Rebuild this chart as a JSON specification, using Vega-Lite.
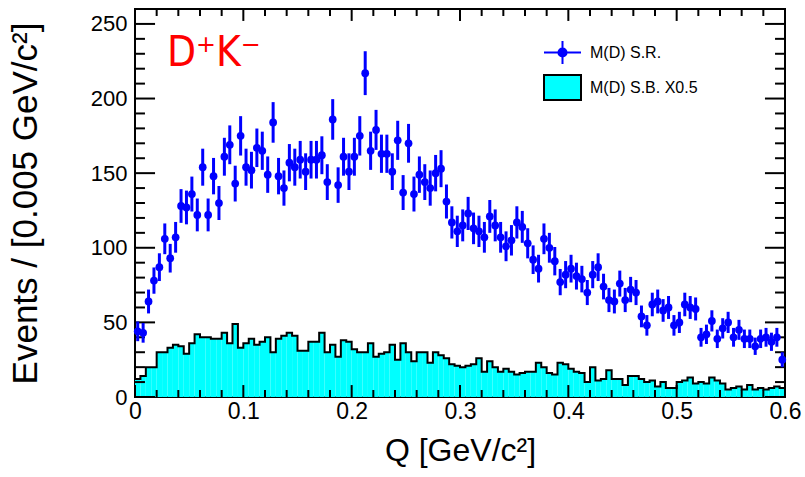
{
  "$schema": "https://vega.github.io/schema/vega-lite/v6.json",
  "width": 650,
  "height": 388,
  "autosize": {"type": "none"},
  "padding": {"left": 135, "top": 9, "right": 20, "bottom": 80},
  "background": "white",
  "config": {
    "view": {"stroke": "black", "strokeWidth": 2},
    "font": "Liberation Sans",
    "axis": {"domain": false, "ticks": false, "grid": false, "labelColor": "black", "titleColor": "black", "labelFlush": false, "labelOverlap": false}
  },
  "resolve": {
    "scale": {"x": "shared", "y": "shared"},
    "axis": {"x": "independent", "y": "independent"}
  },
  "datasets": {
    "xmaj": [{"t":0},{"t":0.1},{"t":0.2},{"t":0.3},{"t":0.4},{"t":0.5},{"t":0.6}],
    "xmin": [{"t":0.02},{"t":0.04},{"t":0.06},{"t":0.08},{"t":0.12},{"t":0.14},{"t":0.16},{"t":0.18},{"t":0.22},{"t":0.24},{"t":0.26},{"t":0.28},{"t":0.32},{"t":0.34},{"t":0.36},{"t":0.38},{"t":0.42},{"t":0.44},{"t":0.46},{"t":0.48},{"t":0.52},{"t":0.54},{"t":0.56},{"t":0.58}],
    "ymaj": [{"t":0},{"t":50},{"t":100},{"t":150},{"t":200},{"t":250}],
    "ymin": [{"t":10},{"t":20},{"t":30},{"t":40},{"t":60},{"t":70},{"t":80},{"t":90},{"t":110},{"t":120},{"t":130},{"t":140},{"t":160},{"t":170},{"t":180},{"t":190},{"t":210},{"t":220},{"t":230},{"t":240}],
    "hist": [
      {"lo":0,"hi":0.005,"h":12},{"lo":0.005,"hi":0.01,"h":14},{"lo":0.01,"hi":0.015,"h":20},{"lo":0.015,"hi":0.02,"h":20},{"lo":0.02,"hi":0.025,"h":30},
      {"lo":0.025,"hi":0.03,"h":30},{"lo":0.03,"hi":0.035,"h":33},{"lo":0.035,"hi":0.04,"h":35},{"lo":0.04,"hi":0.045,"h":34},{"lo":0.045,"hi":0.05,"h":29},
      {"lo":0.05,"hi":0.055,"h":36},{"lo":0.055,"hi":0.06,"h":42},{"lo":0.06,"hi":0.065,"h":40},{"lo":0.065,"hi":0.07,"h":40},{"lo":0.07,"hi":0.075,"h":39},
      {"lo":0.075,"hi":0.08,"h":39},{"lo":0.08,"hi":0.085,"h":43},{"lo":0.085,"hi":0.09,"h":36},{"lo":0.09,"hi":0.095,"h":49},{"lo":0.095,"hi":0.1,"h":33},
      {"lo":0.1,"hi":0.105,"h":36},{"lo":0.105,"hi":0.11,"h":39},{"lo":0.11,"hi":0.115,"h":35},{"lo":0.115,"hi":0.12,"h":37},{"lo":0.12,"hi":0.125,"h":40},
      {"lo":0.125,"hi":0.13,"h":30},{"lo":0.13,"hi":0.135,"h":39},{"lo":0.135,"hi":0.14,"h":41},{"lo":0.14,"hi":0.145,"h":43},{"lo":0.145,"hi":0.15,"h":41},
      {"lo":0.15,"hi":0.155,"h":31},{"lo":0.155,"hi":0.16,"h":31},{"lo":0.16,"hi":0.165,"h":37},{"lo":0.165,"hi":0.17,"h":37},{"lo":0.17,"hi":0.175,"h":43},
      {"lo":0.175,"hi":0.18,"h":30},{"lo":0.18,"hi":0.185,"h":35},{"lo":0.185,"hi":0.19,"h":27},{"lo":0.19,"hi":0.195,"h":38},{"lo":0.195,"hi":0.2,"h":37},
      {"lo":0.2,"hi":0.205,"h":32},{"lo":0.205,"hi":0.21,"h":30},{"lo":0.21,"hi":0.215,"h":30},{"lo":0.215,"hi":0.22,"h":36},{"lo":0.22,"hi":0.225,"h":27},
      {"lo":0.225,"hi":0.23,"h":29},{"lo":0.23,"hi":0.235,"h":30},{"lo":0.235,"hi":0.24,"h":35},{"lo":0.24,"hi":0.245,"h":25},{"lo":0.245,"hi":0.25,"h":36},
      {"lo":0.25,"hi":0.255,"h":30},{"lo":0.255,"hi":0.26,"h":24},{"lo":0.26,"hi":0.265,"h":30},{"lo":0.265,"hi":0.27,"h":30},{"lo":0.27,"hi":0.275,"h":23},
      {"lo":0.275,"hi":0.28,"h":30},{"lo":0.28,"hi":0.285,"h":28},{"lo":0.285,"hi":0.29,"h":26},{"lo":0.29,"hi":0.295,"h":22},{"lo":0.295,"hi":0.3,"h":21},
      {"lo":0.3,"hi":0.305,"h":20},{"lo":0.305,"hi":0.31,"h":21},{"lo":0.31,"hi":0.315,"h":22},{"lo":0.315,"hi":0.32,"h":26},{"lo":0.32,"hi":0.325,"h":17},
      {"lo":0.325,"hi":0.33,"h":24},{"lo":0.33,"hi":0.335,"h":20},{"lo":0.335,"hi":0.34,"h":17},{"lo":0.34,"hi":0.345,"h":19},{"lo":0.345,"hi":0.35,"h":17},
      {"lo":0.35,"hi":0.355,"h":15},{"lo":0.355,"hi":0.36,"h":16},{"lo":0.36,"hi":0.365,"h":17},{"lo":0.365,"hi":0.37,"h":17},{"lo":0.37,"hi":0.375,"h":23},
      {"lo":0.375,"hi":0.38,"h":20},{"lo":0.38,"hi":0.385,"h":16},{"lo":0.385,"hi":0.39,"h":15},{"lo":0.39,"hi":0.395,"h":23},{"lo":0.395,"hi":0.4,"h":22},
      {"lo":0.4,"hi":0.405,"h":19},{"lo":0.405,"hi":0.41,"h":17},{"lo":0.41,"hi":0.415,"h":16},{"lo":0.415,"hi":0.42,"h":10},{"lo":0.42,"hi":0.425,"h":20},
      {"lo":0.425,"hi":0.43,"h":11},{"lo":0.43,"hi":0.435,"h":12},{"lo":0.435,"hi":0.44,"h":18},{"lo":0.44,"hi":0.445,"h":12},{"lo":0.445,"hi":0.45,"h":12},
      {"lo":0.45,"hi":0.455,"h":8},{"lo":0.455,"hi":0.46,"h":14},{"lo":0.46,"hi":0.465,"h":14},{"lo":0.465,"hi":0.47,"h":12},{"lo":0.47,"hi":0.475,"h":10},
      {"lo":0.475,"hi":0.48,"h":11},{"lo":0.48,"hi":0.485,"h":7},{"lo":0.485,"hi":0.49,"h":10},{"lo":0.49,"hi":0.495,"h":6},{"lo":0.495,"hi":0.5,"h":6},
      {"lo":0.5,"hi":0.505,"h":10},{"lo":0.505,"hi":0.51,"h":11},{"lo":0.51,"hi":0.515,"h":13},{"lo":0.515,"hi":0.52,"h":9},{"lo":0.52,"hi":0.525,"h":10},
      {"lo":0.525,"hi":0.53,"h":9},{"lo":0.53,"hi":0.535,"h":13},{"lo":0.535,"hi":0.54,"h":11},{"lo":0.54,"hi":0.545,"h":9},{"lo":0.545,"hi":0.55,"h":5},
      {"lo":0.55,"hi":0.555,"h":6},{"lo":0.555,"hi":0.56,"h":7},{"lo":0.56,"hi":0.565,"h":5},{"lo":0.565,"hi":0.57,"h":8},{"lo":0.57,"hi":0.575,"h":5},
      {"lo":0.575,"hi":0.58,"h":6},{"lo":0.58,"hi":0.585,"h":5},{"lo":0.585,"hi":0.59,"h":6},{"lo":0.59,"hi":0.595,"h":7},{"lo":0.595,"hi":0.6,"h":6},
      {"lo":0.6,"hi":0.6,"h":6}
    ],
    "pts": [
      {"q":0.0025,"n":44,"e":6.6},{"q":0.0075,"n":43,"e":6.6},{"q":0.0125,"n":64,"e":8},{"q":0.0175,"n":78,"e":8.8},{"q":0.0225,"n":87,"e":9.3},
      {"q":0.0275,"n":106,"e":10.3},{"q":0.0325,"n":93,"e":9.6},{"q":0.0375,"n":107,"e":10.3},{"q":0.0425,"n":128,"e":11.3},{"q":0.0475,"n":127,"e":11.3},
      {"q":0.0525,"n":136,"e":11.7},{"q":0.0575,"n":122,"e":11},{"q":0.0625,"n":154,"e":12.4},{"q":0.0675,"n":122,"e":11},{"q":0.0725,"n":148,"e":12.2},
      {"q":0.0775,"n":130,"e":11.4},{"q":0.0825,"n":161,"e":12.7},{"q":0.0875,"n":169,"e":13},{"q":0.0925,"n":143,"e":12},{"q":0.0975,"n":175,"e":13.2},
      {"q":0.1025,"n":154,"e":12.4},{"q":0.1075,"n":152,"e":12.3},{"q":0.1125,"n":167,"e":12.9},{"q":0.1175,"n":165,"e":12.8},{"q":0.1225,"n":149,"e":12.2},
      {"q":0.1275,"n":184,"e":13.6},{"q":0.1325,"n":148,"e":12.2},{"q":0.1375,"n":140,"e":11.8},{"q":0.1425,"n":157,"e":12.5},{"q":0.1475,"n":154,"e":12.4},
      {"q":0.1525,"n":159,"e":12.6},{"q":0.1575,"n":151,"e":12.3},{"q":0.1625,"n":159,"e":12.6},{"q":0.1675,"n":159,"e":12.6},{"q":0.1725,"n":162,"e":12.7},
      {"q":0.1775,"n":144,"e":12},{"q":0.1825,"n":186,"e":13.6},{"q":0.1875,"n":142,"e":11.9},{"q":0.1925,"n":161,"e":12.7},{"q":0.1975,"n":151,"e":12.3},
      {"q":0.2025,"n":161,"e":12.7},{"q":0.2075,"n":175,"e":13.2},{"q":0.2125,"n":217,"e":14.7},{"q":0.2175,"n":165,"e":12.8},{"q":0.2225,"n":179,"e":13.4},
      {"q":0.2275,"n":163,"e":12.8},{"q":0.2325,"n":163,"e":12.8},{"q":0.2375,"n":151,"e":12.3},{"q":0.2425,"n":172,"e":13.1},{"q":0.2475,"n":137,"e":11.7},
      {"q":0.2525,"n":170,"e":13},{"q":0.2575,"n":136,"e":11.7},{"q":0.2625,"n":149,"e":12.2},{"q":0.2675,"n":144,"e":12},{"q":0.2725,"n":140,"e":11.8},
      {"q":0.2775,"n":150,"e":12.2},{"q":0.2825,"n":153,"e":12.4},{"q":0.2875,"n":131,"e":11.4},{"q":0.2925,"n":117,"e":10.8},{"q":0.2975,"n":111,"e":10.5},
      {"q":0.3025,"n":115,"e":10.7},{"q":0.3075,"n":123,"e":11.1},{"q":0.3125,"n":113,"e":10.6},{"q":0.3175,"n":111,"e":10.5},{"q":0.3225,"n":107,"e":10.3},
      {"q":0.3275,"n":121,"e":11},{"q":0.3325,"n":115,"e":10.7},{"q":0.3375,"n":107,"e":10.3},{"q":0.3425,"n":101,"e":10},{"q":0.3475,"n":105,"e":10.2},
      {"q":0.3525,"n":117,"e":10.8},{"q":0.3575,"n":114,"e":10.7},{"q":0.3625,"n":103,"e":10.1},{"q":0.3675,"n":92,"e":9.6},{"q":0.3725,"n":86,"e":9.3},
      {"q":0.3775,"n":106,"e":10.3},{"q":0.3825,"n":100,"e":10},{"q":0.3875,"n":91,"e":9.5},{"q":0.3925,"n":77,"e":8.8},{"q":0.3975,"n":82,"e":9.1},
      {"q":0.4025,"n":86,"e":9.3},{"q":0.4075,"n":81,"e":9},{"q":0.4125,"n":79,"e":8.9},{"q":0.4175,"n":70,"e":8.4},{"q":0.4225,"n":82,"e":9.1},
      {"q":0.4275,"n":87,"e":9.3},{"q":0.4325,"n":74,"e":8.6},{"q":0.4375,"n":65,"e":8.1},{"q":0.4425,"n":64,"e":8},{"q":0.4475,"n":76,"e":8.7},
      {"q":0.4525,"n":65,"e":8.1},{"q":0.4575,"n":72,"e":8.5},{"q":0.4625,"n":70,"e":8.4},{"q":0.4675,"n":54,"e":7.3},{"q":0.4725,"n":48,"e":6.9},
      {"q":0.4775,"n":62,"e":7.9},{"q":0.4825,"n":64,"e":8},{"q":0.4875,"n":58,"e":7.6},{"q":0.4925,"n":60,"e":7.7},{"q":0.4975,"n":48,"e":6.9},
      {"q":0.5025,"n":50,"e":7.1},{"q":0.5075,"n":62,"e":7.9},{"q":0.5125,"n":60,"e":7.7},{"q":0.5175,"n":59,"e":7.7},{"q":0.5225,"n":40,"e":6.3},
      {"q":0.5275,"n":42,"e":6.5},{"q":0.5325,"n":51,"e":7.1},{"q":0.5375,"n":39,"e":6.2},{"q":0.5425,"n":46,"e":6.8},{"q":0.5475,"n":50,"e":7.1},
      {"q":0.5525,"n":40,"e":6.3},{"q":0.5575,"n":45,"e":6.7},{"q":0.5625,"n":39,"e":6.2},{"q":0.5675,"n":39,"e":6.2},{"q":0.5725,"n":34,"e":5.8},
      {"q":0.5775,"n":39,"e":6.2},{"q":0.5825,"n":40,"e":6.3},{"q":0.5875,"n":37,"e":6.1},{"q":0.5925,"n":40,"e":6.3},{"q":0.5975,"n":25,"e":5}
    ]
  },
  "layer": [
    {
      "data": {"name": "hist"},
      "mark": {"type": "bar", "fill": "#00ffff", "strokeWidth": 0},
      "encoding": {
        "x": {
          "field": "lo", "type": "quantitative",
          "scale": {"domain": [0, 0.6], "nice": false, "zero": false},
          "axis": {
            "orient": "bottom",
            "values": [0, 0.1, 0.2, 0.3, 0.4, 0.5, 0.6],
            "labelExpr": "datum.value == 0 ? '0' : format(datum.value, '.1f')",
            "labelFont": "Liberation Sans", "labelFontSize": 23,
            "labelPadding": 3,
            "title": "Q [GeV/c²]", "titleFont": "Liberation Sans", "titleFontSize": 32,
            "titleFontWeight": "normal", "titlePadding": 12
          }
        },
        "x2": {"field": "hi"},
        "y": {
          "field": "h", "type": "quantitative",
          "scale": {"domain": [0, 260], "nice": false},
          "axis": {
            "orient": "left",
            "values": [0, 50, 100, 150, 200, 250],
            "labelFont": "Liberation Sans", "labelFontSize": 22,
            "labelPadding": 8,
            "title": "Events / [0.005 GeV/c²]", "titleFont": "Liberation Sans", "titleFontSize": 35,
            "titleFontWeight": "normal", "titlePadding": 47
          }
        },
        "y2": {"datum": 0}
      }
    },
    {
      "data": {"name": "hist"},
      "mark": {"type": "line", "interpolate": "step-after", "color": "black", "strokeWidth": 2},
      "encoding": {
        "x": {"field": "lo", "type": "quantitative", "axis": null},
        "y": {"field": "h", "type": "quantitative", "axis": null}
      }
    },
    {
      "data": {"name": "xmaj"},
      "mark": {"type": "rule", "color": "#000000", "strokeWidth": 2},
      "encoding": {"x": {"field": "t", "type": "quantitative", "axis": null}, "y": {"datum": 0, "type": "quantitative", "axis": null}, "y2": {"datum": 8}}
    },
    {
      "data": {"name": "xmaj"},
      "mark": {"type": "rule", "color": "#000000", "strokeWidth": 2},
      "encoding": {"x": {"field": "t", "type": "quantitative", "axis": null}, "y": {"datum": 260, "type": "quantitative", "axis": null}, "y2": {"datum": 252}}
    },
    {
      "data": {"name": "xmin"},
      "mark": {"type": "rule", "color": "#000000", "strokeWidth": 2},
      "encoding": {"x": {"field": "t", "type": "quantitative", "axis": null}, "y": {"datum": 0, "type": "quantitative", "axis": null}, "y2": {"datum": 4.7}}
    },
    {
      "data": {"name": "xmin"},
      "mark": {"type": "rule", "color": "#000000", "strokeWidth": 2},
      "encoding": {"x": {"field": "t", "type": "quantitative", "axis": null}, "y": {"datum": 260, "type": "quantitative", "axis": null}, "y2": {"datum": 255.3}}
    },
    {
      "data": {"name": "ymaj"},
      "mark": {"type": "rule", "color": "#000000", "strokeWidth": 2},
      "encoding": {"y": {"field": "t", "type": "quantitative", "axis": null}, "x": {"datum": 0, "type": "quantitative", "axis": null}, "x2": {"datum": 0.0185}}
    },
    {
      "data": {"name": "ymaj"},
      "mark": {"type": "rule", "color": "#000000", "strokeWidth": 2},
      "encoding": {"y": {"field": "t", "type": "quantitative", "axis": null}, "x": {"datum": 0.6, "type": "quantitative", "axis": null}, "x2": {"datum": 0.5815}}
    },
    {
      "data": {"name": "ymin"},
      "mark": {"type": "rule", "color": "#000000", "strokeWidth": 2},
      "encoding": {"y": {"field": "t", "type": "quantitative", "axis": null}, "x": {"datum": 0, "type": "quantitative", "axis": null}, "x2": {"datum": 0.0092}}
    },
    {
      "data": {"name": "ymin"},
      "mark": {"type": "rule", "color": "#000000", "strokeWidth": 2},
      "encoding": {"y": {"field": "t", "type": "quantitative", "axis": null}, "x": {"datum": 0.6, "type": "quantitative", "axis": null}, "x2": {"datum": 0.5908}}
    },
    {
      "data": {"name": "pts"},
      "mark": {"type": "errorbar", "color": "#0000ff", "thickness": 3},
      "encoding": {
        "x": {"field": "q", "type": "quantitative", "axis": null},
        "y": {"field": "n", "type": "quantitative", "axis": null},
        "yError": {"field": "e"}
      }
    },
    {
      "data": {"name": "pts"},
      "mark": {"type": "errorbar", "color": "#0000ff", "thickness": 3},
      "encoding": {
        "y": {"field": "n", "type": "quantitative", "axis": null},
        "x": {"field": "q", "type": "quantitative", "axis": null},
        "xError": {"value": 0.0025}
      }
    },
    {
      "data": {"name": "pts"},
      "mark": {"type": "circle", "color": "#0000ff", "opacity": 1, "size": 60},
      "encoding": {
        "x": {"field": "q", "type": "quantitative", "axis": null},
        "y": {"field": "n", "type": "quantitative", "axis": null}
      }
    },
    {
      "data": {"name": "pts"},
      "mark": {"type": "point", "filled": true, "opacity": 0},
      "encoding": {
        "x": {"field": "q", "type": "quantitative", "axis": null},
        "y": {"field": "n", "type": "quantitative", "axis": null},
        "color": {
          "datum": "M(D) S.R.", "type": "nominal",
          "scale": {"domain": ["M(D) S.R.", "M(D) S.B. X0.5"], "range": ["#0000ff", "#00ffff"]},
          "legend": {
            "orient": "none", "legendX": 408, "legendY": 24,
            "title": null, "padding": 0, "rowPadding": 0,
            "symbolSize": 1369, "symbolStrokeWidth": 2, "symbolOpacity": 1,
            "labelFont": "Liberation Sans", "labelFontSize": 16, "labelColor": "black",
            "labelOffset": 8, "labelLimit": 300,
            "encode": {
              "symbols": {
                "update": {
                  "shape": {"signal": "datum.value === 'M(D) S.R.' ? 'M-1,0L1,0M0,-0.62L0,0.62M0.22,0A0.22,0.22,0,1,1,-0.22,0A0.22,0.22,0,1,1,0.22,0Z' : 'M-1,-0.68L1,-0.68L1,0.68L-1,0.68Z'"},
                  "stroke": {"signal": "datum.value === 'M(D) S.R.' ? '#0000ff' : '#000000'"},
                  "strokeWidth": {"value": 2},
                  "opacity": {"value": 1}
                }
              }
            }
          }
        }
      }
    },
    {
      "data": {"values": [{"label": "D⁺K⁻"}]},
      "mark": {"type": "text", "font": "Liberation Sans Narrow, DejaVu Sans Condensed, Liberation Sans, sans-serif", "fontSize": 42, "color": "#ff0000", "align": "left", "baseline": "alphabetic"},
      "encoding": {
        "text": {"field": "label"},
        "x": {"datum": 0.0295, "type": "quantitative", "axis": null},
        "y": {"datum": 222, "type": "quantitative", "axis": null}
      }
    }
  ]
}
